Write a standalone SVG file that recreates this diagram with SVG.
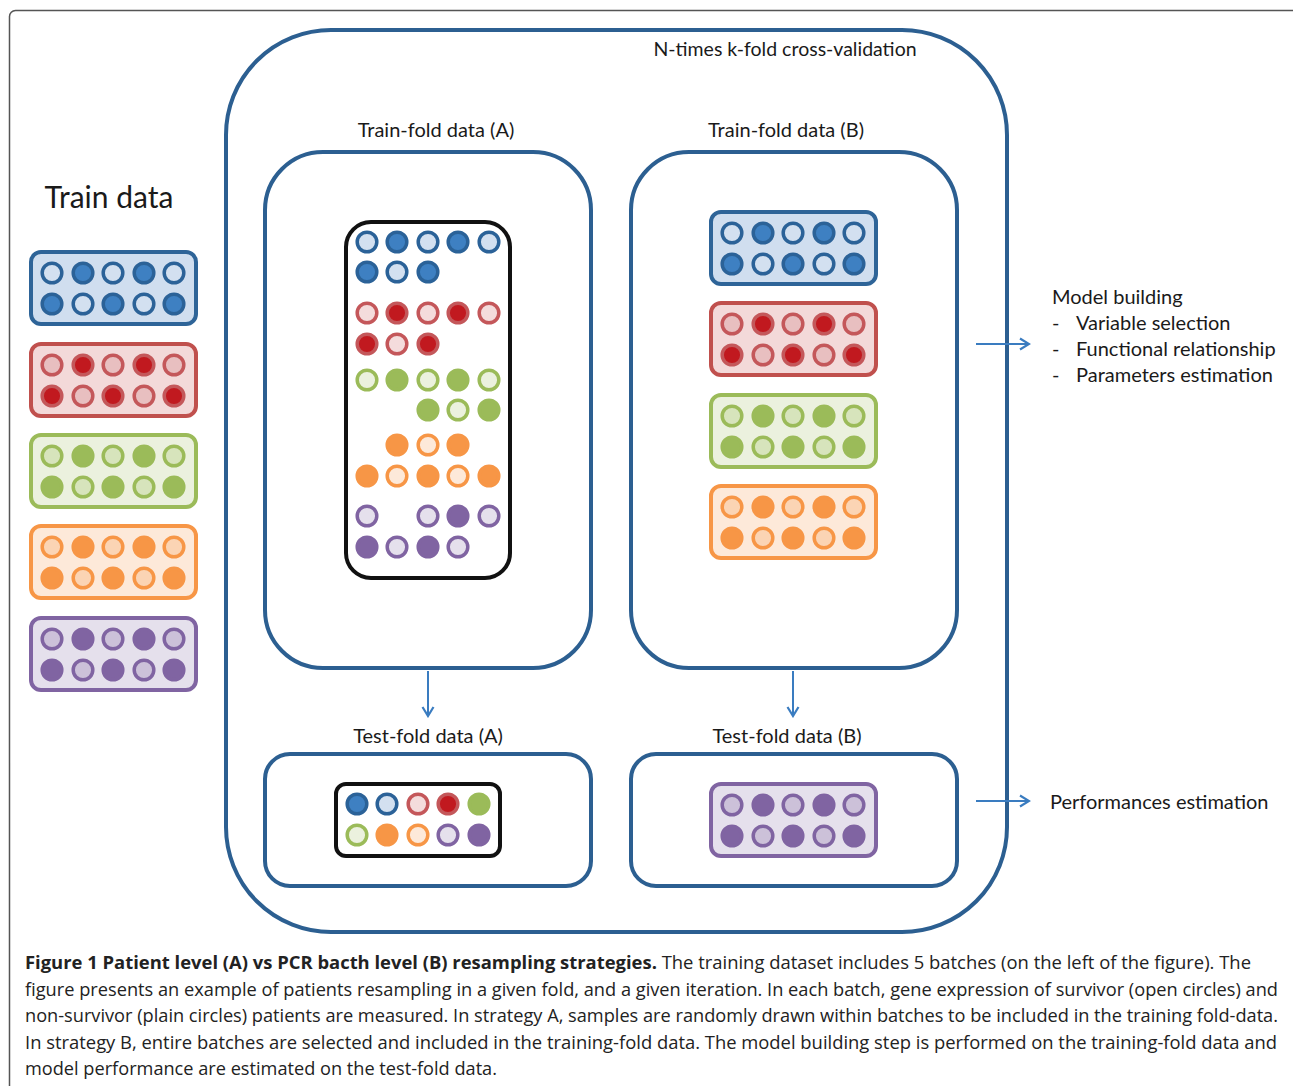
<svg xmlns="http://www.w3.org/2000/svg" xmlns:xlink="http://www.w3.org/1999/xlink" width="1293" height="1086" viewBox="0 0 1293 1086">
<style>
.lbl{font-family:Lato,"Open Sans","DejaVu Sans",sans-serif;fill:#1a1a1a}
.cap{font-family:"Open Sans","Noto Sans","DejaVu Sans",sans-serif;font-size:18px;fill:#222}
.frameBox{fill:none;stroke:#2c5f91;stroke-width:4}
.bb{stroke-width:4}
.blue{color:#3e80c2;fill:#d3e0f0;stroke:#2b6298;stroke-width:3.5}
.red{color:#c1191f;fill:#e8bfc0;stroke:#c4575a;stroke-width:3.5}
.green{color:#9bbb59;fill:#d7e4bc;stroke:#9bbb59;stroke-width:3.5}
.orange{color:#f79646;fill:#fbd4b4;stroke:#f79646;stroke-width:3.5}
.purple{color:#8064a2;fill:#ccc1d9;stroke:#8064a2;stroke-width:3.5}
.bo{fill:#d3e0f0;stroke:#2b6298;stroke-width:3.5}
.bf{fill:#3e80c2;stroke:#2b6298;stroke-width:3.5}
.ro{fill:#f4dcdc;stroke:#c4575a;stroke-width:3.5}
.rf{fill:#c1191f;stroke:#c4575a;stroke-width:3.5}
.go{fill:#ebf1de;stroke:#9bbb59;stroke-width:3.5}
.gf{fill:#9bbb59;stroke:#9bbb59;stroke-width:3.5}
.oo{fill:#fde9d9;stroke:#f79646;stroke-width:3.5}
.of{fill:#f79646;stroke:#f79646;stroke-width:3.5}
.po{fill:#e5e0ec;stroke:#8064a2;stroke-width:3.5}
.pf{fill:#8064a2;stroke:#8064a2;stroke-width:3.5}
.arr{stroke:#3a7cc0;stroke-width:2;fill:none}
</style>
<defs>
<g id="pat">
<circle cx="21" cy="21" r="9.8"/>
<circle cx="52" cy="21" r="9.8" fill="currentColor"/>
<circle cx="82" cy="21" r="9.8"/>
<circle cx="113" cy="21" r="9.8" fill="currentColor"/>
<circle cx="143" cy="21" r="9.8"/>
<circle cx="21" cy="52" r="9.8" fill="currentColor"/>
<circle cx="52" cy="52" r="9.8"/>
<circle cx="82" cy="52" r="9.8" fill="currentColor"/>
<circle cx="113" cy="52" r="9.8"/>
<circle cx="143" cy="52" r="9.8" fill="currentColor"/>
</g>
<marker id="ah" viewBox="0 0 14 14" refX="12" refY="7" markerWidth="14" markerHeight="14" markerUnits="userSpaceOnUse" orient="auto">
<path d="M3,1.5 L12,7 L3,12.5" fill="none" stroke="#3a7cc0" stroke-width="2.2"/>
</marker>
</defs>
<rect width="1293" height="1086" fill="#fff"/>
<rect x="9.5" y="10.5" width="1300" height="1100" rx="6" fill="none" stroke="#555" stroke-width="1.5"/>

<g id="cv">
<rect class="frameBox" x="226" y="30" width="781" height="902" rx="105"/>
<text class="lbl" x="785" y="56" font-size="19.5" text-anchor="middle">N-times k-fold cross-validation</text>
</g>

<g id="train-data">
<text class="lbl" x="109" y="208" font-size="30" text-anchor="middle">Train data</text>
<rect x="31" y="252" width="165" height="72" rx="10" fill="#d0deef" stroke="#2e6498" class="bb"/>
<use xlink:href="#pat" x="31" y="252" class="blue"/>
<rect x="31" y="344" width="165" height="72" rx="10" fill="#f3d9d9" stroke="#c0504d" class="bb"/>
<use xlink:href="#pat" x="31" y="344" class="red"/>
<rect x="31" y="435" width="165" height="72" rx="10" fill="#ebf1de" stroke="#9bbb59" class="bb"/>
<use xlink:href="#pat" x="31" y="435" class="green"/>
<rect x="31" y="526" width="165" height="72" rx="10" fill="#fde9d9" stroke="#f79646" class="bb"/>
<use xlink:href="#pat" x="31" y="526" class="orange"/>
<rect x="31" y="618" width="165" height="72" rx="10" fill="#e5e0ec" stroke="#8064a2" class="bb"/>
<use xlink:href="#pat" x="31" y="618" class="purple"/>
</g>

<g id="train-fold-a">
<text class="lbl" x="436" y="137" font-size="20" text-anchor="middle">Train-fold data (A)</text>
<rect class="frameBox" x="265" y="152" width="326" height="516" rx="58"/>
<rect x="346" y="222" width="164" height="356" rx="25" fill="#fff" stroke="#111" stroke-width="4"/>
<circle class="bo" cx="367" cy="242" r="9.8"/><circle class="bf" cx="397" cy="242" r="9.8"/><circle class="bo" cx="428" cy="242" r="9.8"/><circle class="bf" cx="458" cy="242" r="9.8"/><circle class="bo" cx="489" cy="242" r="9.8"/>
<circle class="bf" cx="367" cy="272" r="9.8"/><circle class="bo" cx="397" cy="272" r="9.8"/><circle class="bf" cx="428" cy="272" r="9.8"/>
<circle class="ro" cx="367" cy="313" r="9.8"/><circle class="rf" cx="397" cy="313" r="9.8"/><circle class="ro" cx="428" cy="313" r="9.8"/><circle class="rf" cx="458" cy="313" r="9.8"/><circle class="ro" cx="489" cy="313" r="9.8"/>
<circle class="rf" cx="367" cy="344" r="9.8"/><circle class="ro" cx="397" cy="344" r="9.8"/><circle class="rf" cx="428" cy="344" r="9.8"/>
<circle class="go" cx="367" cy="380" r="9.8"/><circle class="gf" cx="397" cy="380" r="9.8"/><circle class="go" cx="428" cy="380" r="9.8"/><circle class="gf" cx="458" cy="380" r="9.8"/><circle class="go" cx="489" cy="380" r="9.8"/>
<circle class="gf" cx="428" cy="410" r="9.8"/><circle class="go" cx="458" cy="410" r="9.8"/><circle class="gf" cx="489" cy="410" r="9.8"/>
<circle class="of" cx="397" cy="445" r="9.8"/><circle class="oo" cx="428" cy="445" r="9.8"/><circle class="of" cx="458" cy="445" r="9.8"/>
<circle class="of" cx="367" cy="476" r="9.8"/><circle class="oo" cx="397" cy="476" r="9.8"/><circle class="of" cx="428" cy="476" r="9.8"/><circle class="oo" cx="458" cy="476" r="9.8"/><circle class="of" cx="489" cy="476" r="9.8"/>
<circle class="po" cx="367" cy="516" r="9.8"/><circle class="po" cx="428" cy="516" r="9.8"/><circle class="pf" cx="458" cy="516" r="9.8"/><circle class="po" cx="489" cy="516" r="9.8"/>
<circle class="pf" cx="367" cy="547" r="9.8"/><circle class="po" cx="397" cy="547" r="9.8"/><circle class="pf" cx="428" cy="547" r="9.8"/><circle class="po" cx="458" cy="547" r="9.8"/>
</g>

<g id="train-fold-b">
<text class="lbl" x="786" y="137" font-size="20" text-anchor="middle">Train-fold data (B)</text>
<rect class="frameBox" x="631" y="152" width="326" height="516" rx="58"/>
<rect x="711" y="212" width="165" height="72" rx="10" fill="#d0deef" stroke="#2e6498" class="bb"/>
<use xlink:href="#pat" x="711" y="212" class="blue"/>
<rect x="711" y="303" width="165" height="72" rx="10" fill="#f3d9d9" stroke="#c0504d" class="bb"/>
<use xlink:href="#pat" x="711" y="303" class="red"/>
<rect x="711" y="395" width="165" height="72" rx="10" fill="#ebf1de" stroke="#9bbb59" class="bb"/>
<use xlink:href="#pat" x="711" y="395" class="green"/>
<rect x="711" y="486" width="165" height="72" rx="10" fill="#fde9d9" stroke="#f79646" class="bb"/>
<use xlink:href="#pat" x="711" y="486" class="orange"/>
</g>

<g id="test-fold-a">
<text class="lbl" x="428" y="743" font-size="20" text-anchor="middle">Test-fold data (A)</text>
<rect class="frameBox" x="265" y="754" width="326" height="132" rx="25"/>
<rect x="336" y="784" width="164" height="72" rx="10" fill="#fff" stroke="#111" stroke-width="4"/>
<circle class="bf" cx="357" cy="804" r="9.8"/><circle class="bo" cx="387" cy="804" r="9.8"/><circle class="ro" cx="418" cy="804" r="9.8"/><circle class="rf" cx="448" cy="804" r="9.8"/><circle class="gf" cx="479" cy="804" r="9.8"/>
<circle class="go" cx="357" cy="835" r="9.8"/><circle class="of" cx="387" cy="835" r="9.8"/><circle class="oo" cx="418" cy="835" r="9.8"/><circle class="po" cx="448" cy="835" r="9.8"/><circle class="pf" cx="479" cy="835" r="9.8"/>
</g>

<g id="test-fold-b">
<text class="lbl" x="787" y="743" font-size="20" text-anchor="middle">Test-fold data (B)</text>
<rect class="frameBox" x="631" y="754" width="326" height="132" rx="25"/>
<rect x="711" y="784" width="165" height="72" rx="10" fill="#e5e0ec" stroke="#8064a2" class="bb"/>
<use xlink:href="#pat" x="711" y="784" class="purple"/>
</g>

<g id="model-building">
<text class="lbl" x="1052" y="304" font-size="20">Model building</text>
<text class="lbl" x="1052" y="330" font-size="20">-</text><text class="lbl" x="1076" y="330" font-size="20">Variable selection</text>
<text class="lbl" x="1052" y="356" font-size="20">-</text><text class="lbl" x="1076" y="356" font-size="20">Functional relationship</text>
<text class="lbl" x="1052" y="382" font-size="20">-</text><text class="lbl" x="1076" y="382" font-size="20">Parameters estimation</text>
</g>

<g id="performances">
<text class="lbl" x="1050" y="809" font-size="20">Performances estimation</text>
</g>

<g id="connectors">
<line class="arr" x1="428" y1="671" x2="428" y2="716" marker-end="url(#ah)"/>
<line class="arr" x1="793" y1="671" x2="793" y2="716" marker-end="url(#ah)"/>
<line class="arr" x1="976" y1="344" x2="1029" y2="344" marker-end="url(#ah)"/>
<line class="arr" x1="976" y1="801" x2="1029" y2="801" marker-end="url(#ah)"/>
</g>

<g id="caption">
<text class="cap" x="25" y="969" textLength="1226" lengthAdjust="spacingAndGlyphs"><tspan font-weight="bold">Figure 1 Patient level (A) vs PCR bacth level (B) resampling strategies.</tspan> The training dataset includes 5 batches (on the left of the figure). The</text>
<text class="cap" x="25" y="996" textLength="1253" lengthAdjust="spacingAndGlyphs">figure presents an example of patients resampling in a given fold, and a given iteration. In each batch, gene expression of survivor (open circles) and</text>
<text class="cap" x="25" y="1022" textLength="1253" lengthAdjust="spacingAndGlyphs">non-survivor (plain circles) patients are measured. In strategy A, samples are randomly drawn within batches to be included in the training fold-data.</text>
<text class="cap" x="25" y="1049" textLength="1252" lengthAdjust="spacingAndGlyphs">In strategy B, entire batches are selected and included in the training-fold data. The model building step is performed on the training-fold data and</text>
<text class="cap" x="25" y="1075" textLength="472" lengthAdjust="spacingAndGlyphs">model performance are estimated on the test-fold data.</text>
</g>
</svg>
